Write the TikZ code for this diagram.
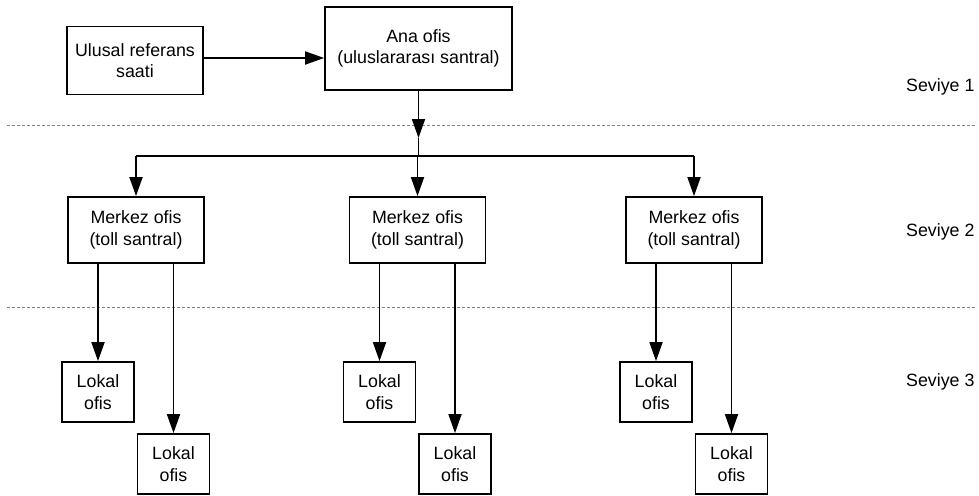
\documentclass[tikz,border=0pt]{standalone}
\usepackage{fontspec}
\setmainfont{Liberation Sans}
\usetikzlibrary{arrows.meta}
\newcommand{\TXT}{\fontsize{17.8}{21.5}\selectfont}

\begin{document}
\begin{tikzpicture}[x=1pt,y=-1pt,
    box/.style={draw,line width=1.8pt,align=center,inner sep=0pt,font=\TXT},
    lokal/.style={box,minimum width=72pt,minimum height=60pt},
    merkez/.style={box,minimum width=136pt,minimum height=66pt},
    arr/.style={line width=1.8pt,-{Triangle[length=19pt,width=13pt]}},
    lvl/.style={draw=gray,line width=0.7pt,dash pattern=on 3pt off 2pt}]
    \useasboundingbox (0,0) rectangle (979,495);

    \coordinate (tip) at (0,138);
    \coordinate (bus) at (0,156);

    % level separators
    \draw[lvl] (7,125) -- (975,125);
    \draw[lvl] (7,307) -- (975,307);

    \node[anchor=east,font=\TXT] (s1) at (978,87) {Seviye 1};
    \node[anchor=east,font=\TXT] (s2) at (978,232) {Seviye 2};
    \node[anchor=east,font=\TXT] (s3) at (978,382) {Seviye 3};

    \node[box,minimum width=136pt,minimum height=68pt] (ref) at (135,60.5) {Ulusal referans\\saati};
    \node[box,minimum width=187pt,minimum height=83pt] (ana) at (418.5,48.5) {Ana ofis\\(uluslararası santral)};

    \draw[arr] ([yshift=2.5pt]ref.east) -- ([yshift=2.5pt]ref.east -| ana.west);
    \draw[arr] (ana.south) -- (ana.south |- tip);
    \draw[line width=1.8pt] (ana.south |- tip) -- (ana.south |- bus);

    \foreach \n/\x in {1/136,2/417.5,3/694} {
        \node[merkez] (m\n) at (\x,230) {Merkez ofis\\(toll santral)};
        \node[lokal] (la\n) at (\x-38,392) {Lokal\\ofis};
        \node[lokal] (lb\n) at (\x+37.5,464) {Lokal\\ofis};
        \draw[arr] (m\n.north |- bus) -- (m\n.north);
        \draw[arr] (la\n.north |- m\n.south) -- (la\n.north);
        \draw[arr] (lb\n.north |- m\n.south) -- (lb\n.north);
    }
    \draw[line width=1.8pt] (m1.north |- bus) -- (m3.north |- bus);
\end{tikzpicture}
\end{document}
